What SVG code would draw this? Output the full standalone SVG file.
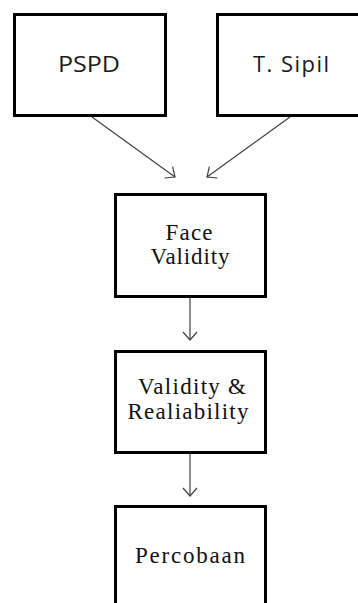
<svg xmlns="http://www.w3.org/2000/svg" width="358" height="603" viewBox="0 0 358 603">
<style>
.box{fill:#fff;stroke:#000;stroke-width:3}
.sans{font-family:"Open Sans","Liberation Sans",sans-serif;font-size:22px;fill:#1a1a1a}
.serif{font-family:"Liberation Serif","Times New Roman",serif;font-size:23px;fill:#111}
.conn{stroke:#404040;stroke-width:1.2;fill:none;marker-end:url(#ah)}
</style>
<defs>
<marker id="ah" markerUnits="userSpaceOnUse" markerWidth="20" markerHeight="20" refX="10" refY="10" orient="auto">
<polyline points="2,3 10,10 2,17" fill="none" stroke="#404040" stroke-width="1.2"/>
</marker>
</defs>
<rect width="358" height="603" fill="#fff"/>
<g id="connectors">
<line class="conn" x1="92" y1="117" x2="175" y2="177"/>
<line class="conn" x1="290" y1="117" x2="207" y2="177"/>
<line class="conn" x1="190" y1="298" x2="190" y2="340"/>
<line class="conn" x1="190" y1="454" x2="190" y2="496"/>
</g>
<g id="pspd">
<rect class="box" x="14.5" y="14.5" width="151" height="101"/>
<text class="sans" x="89" y="72" text-anchor="middle" textLength="62" lengthAdjust="spacingAndGlyphs">PSPD</text>
</g>
<g id="tsipil">
<rect class="box" x="217.5" y="14.5" width="160" height="101"/>
<text class="sans" x="291" y="72" text-anchor="middle" textLength="76" lengthAdjust="spacing">T. Sipil</text>
</g>
<g id="face">
<rect class="box" x="115.5" y="194.5" width="150" height="102"/>
<text class="serif" x="189" y="240" text-anchor="middle" textLength="47" lengthAdjust="spacing">Face</text>
<text class="serif" x="190" y="264" text-anchor="middle" textLength="79" lengthAdjust="spacing">Validity</text>
</g>
<g id="validity">
<rect class="box" x="115.5" y="351.5" width="150" height="101"/>
<text class="serif" x="192" y="394" text-anchor="middle" textLength="108" lengthAdjust="spacing">Validity &amp;</text>
<text class="serif" x="188" y="419" text-anchor="middle" textLength="121" lengthAdjust="spacing">Realiability</text>
</g>
<g id="percobaan">
<rect class="box" x="115.5" y="506.5" width="150" height="120"/>
<text class="serif" x="190" y="563" text-anchor="middle" textLength="110" lengthAdjust="spacing">Percobaan</text>
</g>
</svg>
